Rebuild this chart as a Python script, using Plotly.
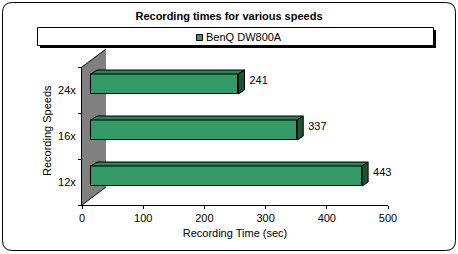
import plotly.graph_objects as go

# ---- data ----
speeds = ["12x", "16x", "24x"]
times = [443, 337, 241]
x_ticks = [0, 100, 200, 300, 400, 500]
series_name = "BenQ DW800A"
title_text = "Recording times for various speeds"
x_title = "Recording Time (sec)"
y_title = "Recording Speeds"

# ---- layout constants (pixels) ----
FW, FH = 458, 254
L, R, T, B = 82, 388, 67, 205
PW, PH = R - L, B - T
XMAX = 500
ux = PW / XMAX            # px per unit
uy = PH / len(speeds)     # px per category

FRONT = "#339966"
TOP = "#2b8256"
SIDE = "#1d5236"
WALL = "#808080"
FONT = "Liberation Sans"

# depth offsets (px) -> data units
f_dx, f_dy = 9 / ux, 6 / uy       # bar front plane relative to axis plane
b_dx, b_dy = 6 / ux, 4 / uy       # bar depth
bar_h = 20 / uy
lab_gap = 11 / ux
lab_dy = 2.5 / uy


def px(xp):
    return (xp - L) / PW


def py(yp):
    return (B - yp) / PH


ypos = list(range(len(speeds)))

fig = go.Figure()

# front faces
fig.add_trace(go.Bar(
    orientation="h", y=[p + f_dy for p in ypos], x=times, base=f_dx,
    width=bar_h, marker=dict(color=FRONT, line=dict(color="black", width=1)),
    name=series_name, showlegend=False, hoverinfo="skip"))

# top and side faces
for p, v in zip(ypos, times):
    x0 = f_dx
    x1 = f_dx + v
    yt = p + f_dy + bar_h / 2
    yb = p + f_dy - bar_h / 2
    fig.add_trace(go.Scatter(
        x=[x0, x0 + b_dx, x1 + b_dx, x1, x0], y=[yt, yt + b_dy, yt + b_dy, yt, yt],
        fill="toself", fillcolor=TOP, mode="lines", line=dict(color="black", width=1),
        showlegend=False, hoverinfo="skip"))
    fig.add_trace(go.Scatter(
        x=[x1, x1 + b_dx, x1 + b_dx, x1, x1], y=[yt, yt + b_dy, yb + b_dy, yb, yt],
        fill="toself", fillcolor=SIDE, mode="lines", line=dict(color="black", width=1),
        showlegend=False, hoverinfo="skip"))

# value labels
fig.add_trace(go.Scatter(
    x=[f_dx + v + lab_gap for v in times], y=[p + f_dy + lab_dy for p in ypos],
    text=[str(v) for v in times], mode="text", textposition="middle right",
    textfont=dict(family=FONT, size=11, color="black"), cliponaxis=False,
    showlegend=False, hoverinfo="skip"))

shapes = []
# back wall (gray)
wx = 24 / PW
wy = 18 / PH
shapes.append(dict(type="path", xref="paper", yref="paper", layer="below",
                   path=f"M0,0 L{wx},{wy} L{wx},{1 + wy} L0,1 Z",
                   fillcolor=WALL, line=dict(width=0)))
shapes.append(dict(type="path", xref="paper", yref="paper", layer="above",
                   path=f"M{wx},{1 + wy} L0,1 M0,0 L{wx},{wy}",
                   line=dict(color="black", width=1)))

# outer rounded frame
x0, y0, x1, y1, r = 2.5, 2.5, 455.5, 250.5, 10
frame = (f"M{px(x0 + r)},{py(y0)} L{px(x1 - r)},{py(y0)} Q{px(x1)},{py(y0)} {px(x1)},{py(y0 + r)} "
         f"L{px(x1)},{py(y1 - r)} Q{px(x1)},{py(y1)} {px(x1 - r)},{py(y1)} "
         f"L{px(x0 + r)},{py(y1)} Q{px(x0)},{py(y1)} {px(x0)},{py(y1 - r)} "
         f"L{px(x0)},{py(y0 + r)} Q{px(x0)},{py(y0)} {px(x0 + r)},{py(y0)} Z")
shapes.append(dict(type="path", xref="paper", yref="paper", path=frame,
                   line=dict(color="black", width=1)))

# legend box with shadow
shapes.append(dict(type="rect", xref="paper", yref="paper",
                   x0=px(40), x1=px(436), y0=py(30), y1=py(48),
                   fillcolor="black", line=dict(width=0)))
shapes.append(dict(type="rect", xref="paper", yref="paper",
                   x0=px(37.5), x1=px(433.5), y0=py(27.5), y1=py(45.5),
                   fillcolor="white", line=dict(color="black", width=1)))
shapes.append(dict(type="rect", xref="paper", yref="paper",
                   x0=px(196.5), x1=px(202.5), y0=py(34.5), y1=py(40.5),
                   fillcolor=FRONT, line=dict(color="black", width=1)))

annotations = [
    dict(text=series_name, xref="paper", yref="paper", x=px(204), y=py(37.5),
         xanchor="left", yanchor="middle", showarrow=False,
         font=dict(family=FONT, size=11, color="black")),
    dict(text=y_title, xref="paper", yref="paper", x=px(47), y=py(131),
         xanchor="center", yanchor="middle", textangle=-90, showarrow=False,
         font=dict(family=FONT, size=11, color="black")),
]

fig.update_layout(
    width=FW, height=FH,
    margin=dict(l=L, r=FW - R, t=T, b=FH - B, pad=0),
    paper_bgcolor="white", plot_bgcolor="white",
    shapes=shapes, annotations=annotations,
    showlegend=False, bargap=0,
    title=dict(text=f"<b>{title_text}</b>", x=229 / FW, xanchor="center",
               y=1 - 16.5 / FH, yanchor="middle", yref="container",
               font=dict(family=FONT, size=11, color="black")),
    xaxis=dict(range=[0, XMAX], tickmode="array", tickvals=x_ticks,
               ticks="outside", ticklen=3, tickcolor="black", showgrid=False,
               zeroline=False, showline=True, linecolor="black", linewidth=1,
               tickfont=dict(family=FONT, size=11, color="black"),
               title=dict(text=x_title, standoff=6,
                          font=dict(family=FONT, size=11, color="black")),
               fixedrange=True),
    yaxis=dict(range=[-0.5, len(speeds) - 0.5], tickmode="array", tickvals=ypos,
               ticktext=speeds, ticks="", showgrid=False, zeroline=False,
               showline=True, linecolor="black", linewidth=1,
               ticklabelstandoff=3,
               minor=dict(tickmode="linear", tick0=-0.5, dtick=1, ticks="outside",
                          ticklen=3, tickcolor="black", showgrid=False),
               tickfont=dict(family=FONT, size=11, color="black"),
               fixedrange=True),
)

fig.write_html("out.html")
